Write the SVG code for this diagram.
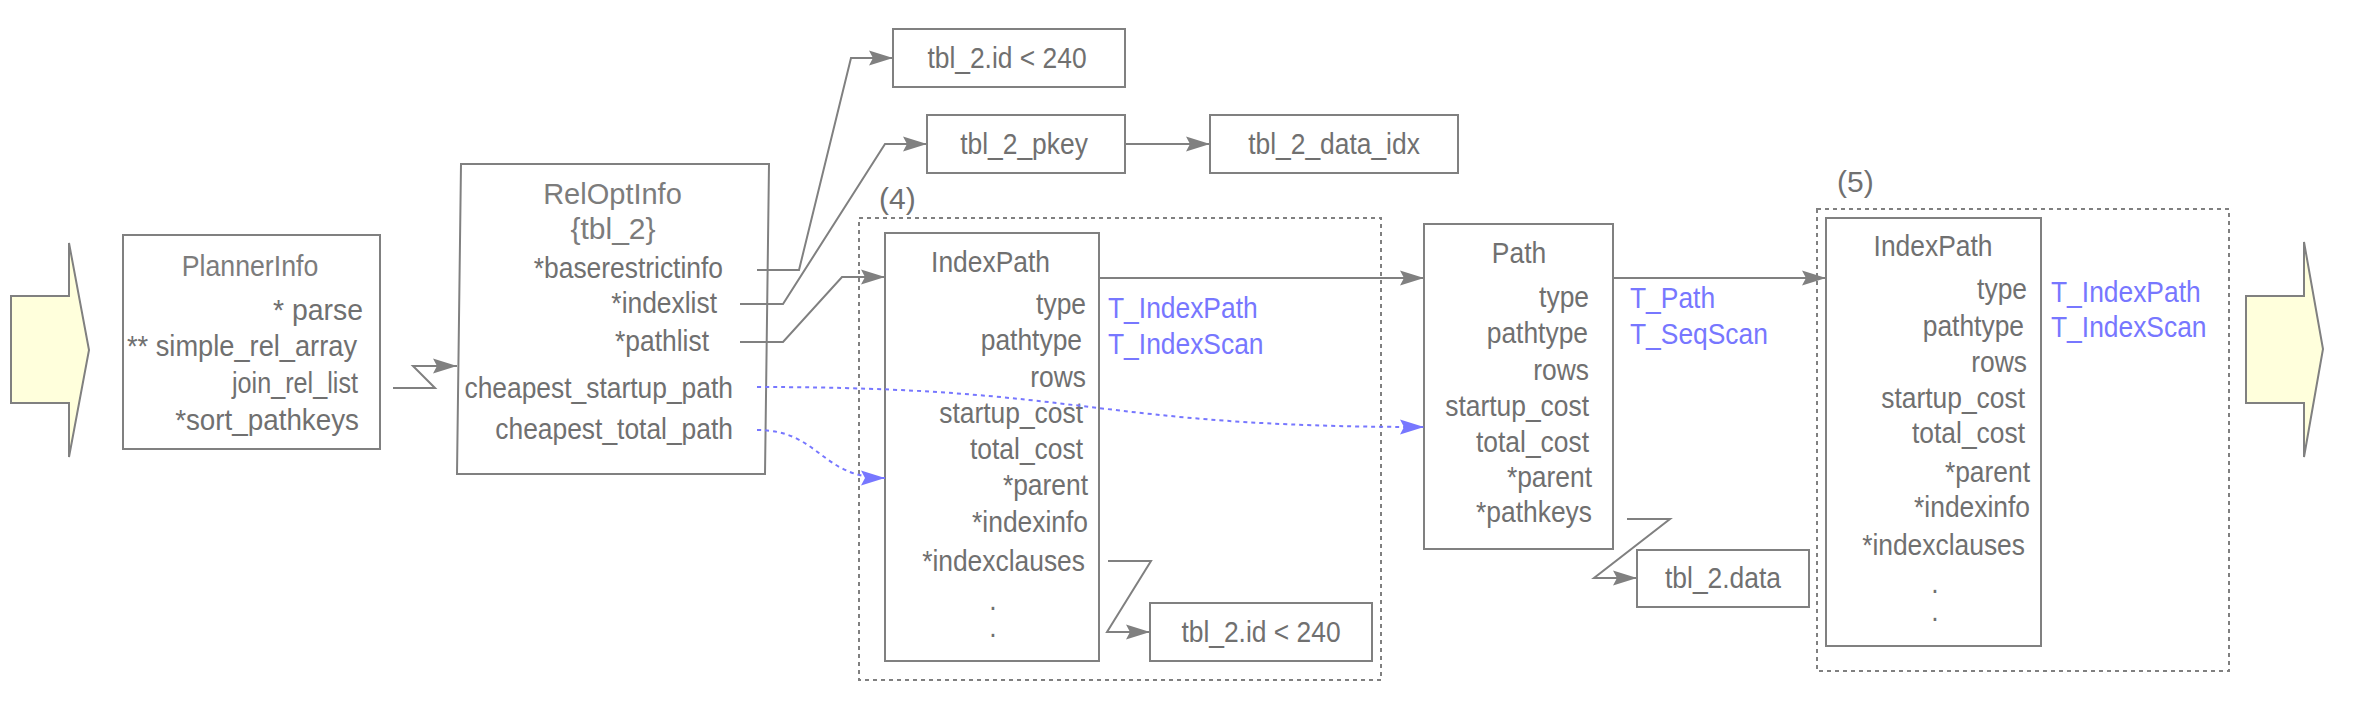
<svg xmlns="http://www.w3.org/2000/svg" width="2354" height="726" viewBox="0 0 2354 726">
<style>
.t{font-family:"Liberation Sans",Arial,sans-serif;font-size:30px;fill:#707070}
.ti{fill:#7c7c7c}
.e{text-anchor:end}
.m{text-anchor:middle}
.b{fill:#7777ff}
.box{fill:#ffffff;stroke:#808080;stroke-width:2}
.grp{fill:none;stroke:#808080;stroke-width:2;stroke-dasharray:4 4}
.big{fill:#ffffdc;stroke:#808080;stroke-width:2}
.ln{fill:none;stroke:#808080;stroke-width:2;marker-end:url(#ag)}
.dl{fill:none;stroke:#7777ff;stroke-width:2;stroke-dasharray:4 4;marker-end:url(#ab)}
</style>
<defs>
<marker id="ag" markerUnits="userSpaceOnUse" markerWidth="24" markerHeight="16" refX="24" refY="8" orient="auto">
<path d="M0,0.5 L24,8 L0,15.5 L4,8 Z" fill="#808080"/>
</marker>
<marker id="ab" markerUnits="userSpaceOnUse" markerWidth="24" markerHeight="16" refX="24" refY="8" orient="auto">
<path d="M0,0.5 L24,8 L0,15.5 L4,8 Z" fill="#7777ff"/>
</marker>
</defs>
<rect x="0" y="0" width="2354" height="726" fill="#ffffff"/>

<g id="arrow-in">
<polygon class="big" points="11,296 69,296 69,243 89,350 69,457 69,403 11,403"/>
</g>
<g id="arrow-out">
<polygon class="big" points="2246,296 2304,296 2304,242 2323,349 2304,457 2304,403 2246,403"/>
</g>

<g id="group4">
<rect class="grp" x="859" y="218" width="522" height="462"/>
<text class="t" font-size="26" x="879" y="209">(4)</text>
</g>
<g id="group5">
<rect class="grp" x="1817" y="209" width="412" height="462"/>
<text class="t" font-size="26" x="1837" y="192">(5)</text>
</g>

<g id="plannerinfo">
<rect class="box" x="123" y="235" width="257" height="214"/>
<text class="t ti m" transform="matrix(0.89 0 0 1 250 276)">PlannerInfo</text>
<text class="t e" transform="matrix(0.947 0 0 1 363 320)">* parse</text>
<text class="t e" transform="matrix(0.908 0 0 1 357 356)">** simple_rel_array</text>
<text class="t e" transform="matrix(0.84 0 0 1 358 393)">join_rel_list</text>
<text class="t e" transform="matrix(0.927 0 0 1 359 430)">*sort_pathkeys</text>
</g>

<g id="reloptinfo">
<polygon class="box" points="461,164 769,164 765,474 457,474"/>
<text class="t ti m" font-size="32" transform="matrix(0.967 0 0 1 612.5 204)">RelOptInfo</text>
<text class="t ti m" font-size="28" transform="matrix(1 0 0 1 613 239)">{tbl_2}</text>
<text class="t e" transform="matrix(0.88 0 0 1 723 278)">*baserestrictinfo</text>
<text class="t e" transform="matrix(0.88 0 0 1 717 313)">*indexlist</text>
<text class="t e" transform="matrix(0.88 0 0 1 709 351)">*pathlist</text>
<text class="t e" transform="matrix(0.88 0 0 1 733 398)">cheapest_startup_path</text>
<text class="t e" transform="matrix(0.88 0 0 1 733 439)">cheapest_total_path</text>
</g>

<g id="restrict-clause">
<rect class="box" x="893" y="29" width="232" height="58"/>
<text class="t m" transform="matrix(0.88 0 0 1 1007 68)">tbl_2.id &lt; 240</text>
</g>
<g id="pkey">
<rect class="box" x="927" y="115" width="198" height="58"/>
<text class="t m" transform="matrix(0.88 0 0 1 1024 154)">tbl_2_pkey</text>
</g>
<g id="data-idx">
<rect class="box" x="1210" y="115" width="248" height="58"/>
<text class="t m" transform="matrix(0.88 0 0 1 1334 154)">tbl_2_data_idx</text>
</g>

<g id="indexpath4">
<rect class="box" x="885" y="233" width="214" height="428"/>
<text class="t m" transform="matrix(0.88 0 0 1 990.5 272)">IndexPath</text>
<text class="t e" transform="matrix(0.88 0 0 1 1086 314)">type</text>
<text class="t e" transform="matrix(0.88 0 0 1 1082 350)">pathtype</text>
<text class="t e" transform="matrix(0.88 0 0 1 1086 387)">rows</text>
<text class="t e" transform="matrix(0.88 0 0 1 1083 423)">startup_cost</text>
<text class="t e" transform="matrix(0.88 0 0 1 1083 459)">total_cost</text>
<text class="t e" transform="matrix(0.88 0 0 1 1088 495)">*parent</text>
<text class="t e" transform="matrix(0.88 0 0 1 1088 532)">*indexinfo</text>
<text class="t e" transform="matrix(0.88 0 0 1 1085 571)">*indexclauses</text>
<text class="t m" transform="matrix(0.88 0 0 1 993 610)">.</text>
<text class="t m" transform="matrix(0.88 0 0 1 993 637)">.</text>
<text class="t b" transform="matrix(0.88 0 0 1 1108 318)">T_IndexPath</text>
<text class="t b" transform="matrix(0.88 0 0 1 1108 354)">T_IndexScan</text>
</g>
<g id="indexclause">
<rect class="box" x="1150" y="603" width="222" height="58"/>
<text class="t m" transform="matrix(0.88 0 0 1 1261 642)">tbl_2.id &lt; 240</text>
</g>

<g id="path">
<rect class="box" x="1424" y="224" width="189" height="325"/>
<text class="t m" transform="matrix(0.88 0 0 1 1519 263)">Path</text>
<text class="t e" transform="matrix(0.88 0 0 1 1589 307)">type</text>
<text class="t e" transform="matrix(0.88 0 0 1 1588 343)">pathtype</text>
<text class="t e" transform="matrix(0.88 0 0 1 1589 380)">rows</text>
<text class="t e" transform="matrix(0.88 0 0 1 1589 416)">startup_cost</text>
<text class="t e" transform="matrix(0.88 0 0 1 1589 452)">total_cost</text>
<text class="t e" transform="matrix(0.88 0 0 1 1592 487)">*parent</text>
<text class="t e" transform="matrix(0.88 0 0 1 1592 522)">*pathkeys</text>
<text class="t b" transform="matrix(0.88 0 0 1 1630 308)">T_Path</text>
<text class="t b" transform="matrix(0.88 0 0 1 1630 344)">T_SeqScan</text>
</g>
<g id="pathkey">
<rect class="box" x="1637" y="550" width="172" height="57"/>
<text class="t m" transform="matrix(0.88 0 0 1 1723 588)">tbl_2.data</text>
</g>

<g id="indexpath5">
<rect class="box" x="1826" y="218" width="215" height="428"/>
<text class="t m" transform="matrix(0.88 0 0 1 1933 256)">IndexPath</text>
<text class="t e" transform="matrix(0.88 0 0 1 2027 299)">type</text>
<text class="t e" transform="matrix(0.88 0 0 1 2024 336)">pathtype</text>
<text class="t e" transform="matrix(0.88 0 0 1 2027 372)">rows</text>
<text class="t e" transform="matrix(0.88 0 0 1 2025 408)">startup_cost</text>
<text class="t e" transform="matrix(0.88 0 0 1 2025 443)">total_cost</text>
<text class="t e" transform="matrix(0.88 0 0 1 2030 482)">*parent</text>
<text class="t e" transform="matrix(0.88 0 0 1 2030 517)">*indexinfo</text>
<text class="t e" transform="matrix(0.88 0 0 1 2025 555)">*indexclauses</text>
<text class="t m" transform="matrix(0.88 0 0 1 1935 593)">.</text>
<text class="t m" transform="matrix(0.88 0 0 1 1935 621)">.</text>
<text class="t b" transform="matrix(0.88 0 0 1 2051 302)">T_IndexPath</text>
<text class="t b" transform="matrix(0.88 0 0 1 2051 337)">T_IndexScan</text>
</g>

<g id="connectors">
<path class="ln" d="M393,388 L435,388 L413,366 L457,366"/>
<path class="ln" d="M757,270 L799,270 L851,58 L893,58"/>
<path class="ln" d="M740,304 L783,304 L885,144 L927,144"/>
<path class="ln" d="M740,342 L783,342 L842,277 L885,277"/>
<path class="ln" d="M1125,144 L1210,144"/>
<path class="ln" d="M1099,278 L1424,278"/>
<path class="ln" d="M1108,561 L1151,561 L1107,632 L1150,632"/>
<path class="ln" d="M1613,278 L1826,278"/>
<path class="ln" d="M1627,519 L1670,519 L1594,578 L1637,578"/>
<path class="dl" d="M757,387 C1090,387 1090,427 1424,427"/>
<path class="dl" d="M757,430 C820,430 820,478 885,478"/>
</g>
</svg>
